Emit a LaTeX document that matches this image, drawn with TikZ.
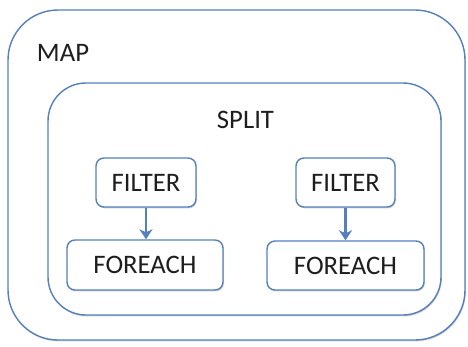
\documentclass[tikz,border=0pt]{standalone}
\usepackage{fontspec}
\setmainfont{Carlito}
\usetikzlibrary{arrows.meta,shadows}
\definecolor{edgeblue}{RGB}{84,128,188}
\definecolor{txt}{RGB}{30,30,30}
\tikzset{
  frame/.style={draw=edgeblue, line width=1.4pt, fill=white, inner sep=0pt,
    drop shadow={shadow xshift=0.8pt, shadow yshift=-1.4pt, opacity=0.3, fill=black!60}},
  opbox/.style={frame, rounded corners=8pt, text=txt, font=\fontsize{26.7}{32}\selectfont},
  lbl/.style={text=txt, inner sep=0pt, font=\fontsize{26.7}{32}\selectfont},
  flow/.style={draw=edgeblue, line width=2.6pt, -{Stealth[length=10pt,width=13pt,inset=3pt]}}
}
\begin{document}
\begin{tikzpicture}[x=1pt,y=-1pt]
\useasboundingbox (0,0) rectangle (468,346);
\node[frame, rounded corners=50pt, minimum width=457pt, minimum height=330pt] (map) at (236.5,175) {};
\node[lbl] (maplbl) at (63,53) {MAP};
\node[frame, rounded corners=38pt, minimum width=393pt, minimum height=232pt] (split) at (244.5,199) {};
\node[lbl] (splitlbl) at (245.5,120) {SPLIT};
\node[opbox, minimum width=100pt, minimum height=49pt] (f1) at (146,182.5) {FILTER};
\node[opbox, minimum width=156pt, minimum height=50pt] (e1) at (145,265) {FOREACH};
\node[opbox, minimum width=99pt, minimum height=49pt] (f2) at (345.5,182.5) {FILTER};
\node[opbox, minimum width=157pt, minimum height=49pt] (e2) at (345.5,265.5) {FOREACH};
\draw[flow] (f1.south) -- (f1.south |- e1.north);
\draw[flow] (f2.south) -- (f2.south |- e2.north);
\end{tikzpicture}
\end{document}
